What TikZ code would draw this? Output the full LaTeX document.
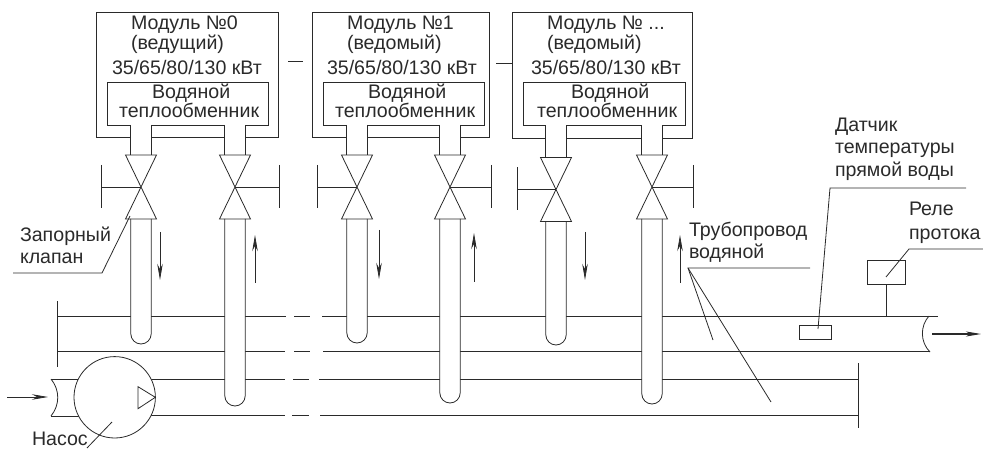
\documentclass[tikz,border=0pt]{standalone}
\usepackage{fontspec}
\setmainfont{Liberation Sans}
\usetikzlibrary{arrows.meta}
\definecolor{ink}{HTML}{2A2A2A}
\tikzset{
  ln/.style={draw=ink,line width=0.8pt},
  lbl/.style={anchor=base west,inner sep=0pt,outer sep=0pt,text=ink,font=\fontsize{19.6}{20}\selectfont},
  flow/.style={draw=ink,line width=0.8pt,-{Stealth[length=16pt,width=5.5pt,inset=5pt]}},
  flowb/.style={draw=ink,line width=1.1pt,-{Stealth[length=15pt,width=5pt,inset=4pt]}}
}
% #1 centre x, #2 valve top y, #3 pipe bottom y, #4 handle x, #5 stub top y
\newcommand{\pipeunit}[5]{%
  \fill[white] (#1-10.2,#5) rectangle (#1+10.2,#2);
  \draw[ln] (#1-10.2,#5) -- (#1-10.2,#2) (#1+10.2,#5) -- (#1+10.2,#2);
  \filldraw[ln,fill=white] (#1-10.2,#2+64) -- (#1-10.2,#3-10.2) arc[start angle=180,end angle=0,radius=10.2] -- (#1+10.2,#2+64);
  \draw[ln] (#1-15.5,#2) -- (#1+15.5,#2) -- (#1-15.5,#2+64) -- (#1+15.5,#2+64) -- cycle;
  \draw[ln] (#1,#2+32) -- (#4,#2+32) (#4,#2+10) -- (#4,#2+53);
}
\begin{document}
\begin{tikzpicture}[x=1pt,y=-1pt]
\useasboundingbox (0,0) rectangle (983,449);
% horizontals
\draw[ln] (57,316) -- (286,316) (294,316) -- (310,316) (322,316) -- (938,316);
\draw[ln] (57,351.5) -- (285,351.5) (294,351.5) -- (310,351.5) (323,351.5) -- (930,351.5);
\draw[ln] (150,379) -- (285,379) (293,379) -- (309,379) (319,379) -- (858,379);
\draw[ln] (150,415) -- (285,415) (292,415) -- (309,415) (320,415) -- (858,415);
\draw[ln] (57,301) -- (57,366.5);
\draw[ln] (858,363) -- (858,428);
% module boxes
\draw[ln] (96.5,12) rectangle (278,137.5);
\draw[ln] (107,82) rectangle (268,125);
\draw[ln] (312,12) rectangle (489,137.5);
\draw[ln] (323,82) rectangle (484,125);
\draw[ln] (512,12) rectangle (692,138);
\draw[ln] (523,82) rectangle (685,125.5);
\draw[ln] (288,61) -- (303,61);
\draw[ln] (496,63) -- (512,63);
% pipes and valves
\pipeunit{141}{155}{344}{101}{125}
\pipeunit{235}{155}{406}{279}{125}
\pipeunit{357}{155}{343}{317}{125}
\pipeunit{450}{155}{403}{491}{125}
\pipeunit{556}{157.5}{345}{517}{125.5}
\pipeunit{652}{155}{404}{693}{125.5}
% flow arrows
\draw[flow] (160,232) -- (160,280);
\draw[flow] (255,283) -- (255,235);
\draw[flow] (379,230) -- (379,279);
\draw[flow] (474,282) -- (474,233);
\draw[flow] (585,232) -- (585,280);
\draw[flow] (680,283) -- (680,235);
\draw[flow] (7,397) -- (48,397);
\draw[flowb] (932,334) -- (981,334);
% pump
\draw[ln] (51,379) -- (80,379) (51,416) -- (80,416);
\draw[ln] (51,379) .. controls (60,390) and (60,405) .. (51,416);
\draw[ln] (929,316) .. controls (920,326) and (920,342) .. (930,352);
\filldraw[ln,fill=white] (114.7,397.3) circle[radius=40.7];
\draw[ln] (138,386.7) -- (155.3,397.3) -- (138,408.7) -- cycle;
% sensor and relay
\draw[ln] (799,325) rectangle (831,339);
\filldraw[ln,fill=white] (867,260) rectangle (905,284.5);
\draw[ln] (886,284.5) -- (886,316);
% leaders
\draw[ln] (13,273) -- (102,273) -- (130,216);
\draw[ln] (112,422) -- (87,448);
\draw[ln] (810,268) -- (688,268) -- (713,340);
\draw[ln] (688,268) -- (771,402);
\draw[ln] (966,188) -- (830,188) -- (818,329);
\draw[ln] (983,249) -- (909,249) -- (886,277);
% texts
\node[lbl] (m0a) at (131,30) {Модуль №0};
\node[lbl] (m0b) at (131,50) {(ведущий)};
\node[lbl] (m0c) at (112,75) {35/65/80/130 кВт};
\node[lbl] (m0d) at (152,99) {Водяной};
\node[lbl] (m0e) at (119,118) {теплообменник};
\node[lbl] (m1a) at (347,30) {Модуль №1};
\node[lbl] (m1b) at (347,50) {(ведомый)};
\node[lbl] (m1c) at (327,75) {35/65/80/130 кВт};
\node[lbl] (m1d) at (368,99) {Водяной};
\node[lbl] (m1e) at (335,118) {теплообменник};
\node[lbl] (m2a) at (547,30) {Модуль № ...};
\node[lbl] (m2b) at (547,50) {(ведомый)};
\node[lbl] (m2c) at (531,75) {35/65/80/130 кВт};
\node[lbl] (m2d) at (571,99) {Водяной};
\node[lbl] (m2e) at (537,118) {теплообменник};
\node[lbl] (t1) at (20,241.5) {Запорный};
\node[lbl] (t2) at (20,264) {клапан};
\node[lbl] (t3) at (32,445) {Насос};
\node[lbl] (t4) at (689,237) {Трубопровод};
\node[lbl] (t5) at (689,259) {водяной};
\node[lbl] (t6) at (835,131.5) {Датчик};
\node[lbl] (t7) at (835,154) {температуры};
\node[lbl] (t8) at (835,177) {прямой воды};
\node[lbl] (t9) at (909,216) {Реле};
\node[lbl] (t10) at (909,240) {протока};
\end{tikzpicture}
\end{document}
